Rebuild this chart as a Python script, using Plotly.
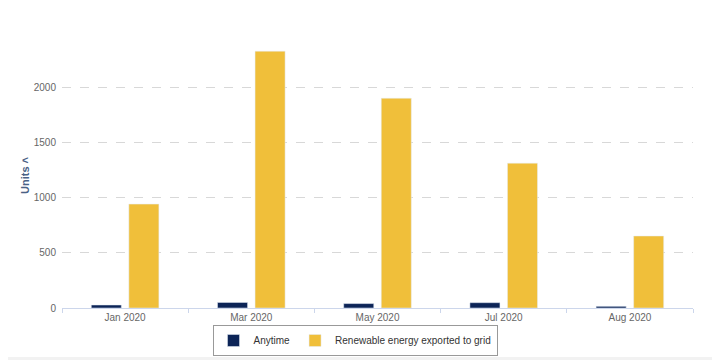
import plotly.graph_objects as go

categories = ["Jan 2020", "Mar 2020", "May 2020", "Jul 2020", "Aug 2020"]
anytime = [27, 50, 40, 48, 15]
renewable = [941, 2326, 1900, 1312, 652]

navy = "#0c2457"
gold = "#f0bf3a"

# the page body adds an 8px offset; positions below are in figure pixels
W, H = 720, 360
L, R, T, B = 54, 35, 35, 60
PW, PH = W - L - R, H - T - B

fig = go.Figure()
fig.add_trace(go.Bar(x=categories, y=anytime, name="Anytime", marker_color=navy))
fig.add_trace(go.Bar(x=categories, y=renewable, name="Renewable energy exported to grid", marker_color=gold))

fig.update_layout(
    width=W, height=H,
    margin=dict(l=L, r=R, t=T, b=B, autoexpand=False),
    paper_bgcolor="white", plot_bgcolor="white",
    barmode="group", bargap=0.405, bargroupgap=0.2,
    font=dict(family="Liberation Sans, Arial, sans-serif", size=10, color="#666666"),
    showlegend=True,
    legend=dict(orientation="h", x=347 / W, xanchor="center", xref="container",
                y=(H - 317) / H, yanchor="top", yref="container",
                bordercolor="#999999", borderwidth=1, bgcolor="white",
                itemwidth=30,
                font=dict(size=10, color="#333333"), itemclick=False),
    xaxis=dict(showline=True, linecolor="#ccd6eb", linewidth=1, ticks="outside",
               tickson="boundaries", ticklen=4, tickcolor="#ccd6eb", automargin=False,
               tickfont=dict(size=10, color="#666666"), showgrid=False, fixedrange=True),
    yaxis=dict(range=[0, 2400], dtick=500, showgrid=True, gridcolor="#d8d8d8",
               griddash="dash", gridwidth=1, zeroline=False, automargin=False,
               tickfont=dict(size=10, color="#666666"), ticklabelstandoff=5,
               title=dict(text="<b>Units ˄</b>", font=dict(size=11, color="#4a6285"), standoff=1),
               fixedrange=True),
    shapes=[
        dict(type="line", xref="paper", yref="paper", x0=(709 - L) / PW, x1=(709 - L) / PW,
             y0=-B / PH, y1=(H - B) / PH, line=dict(color="#e6e6e6", width=2)),
        dict(type="rect", xref="paper", yref="paper", x0=-L / PW, x1=(708 - L) / PW,
             y0=-B / PH, y1=-(349 - (H - B)) / PH, line=dict(width=0), fillcolor="#f2f2f2"),
    ],
)
fig.write_html("out.html")
